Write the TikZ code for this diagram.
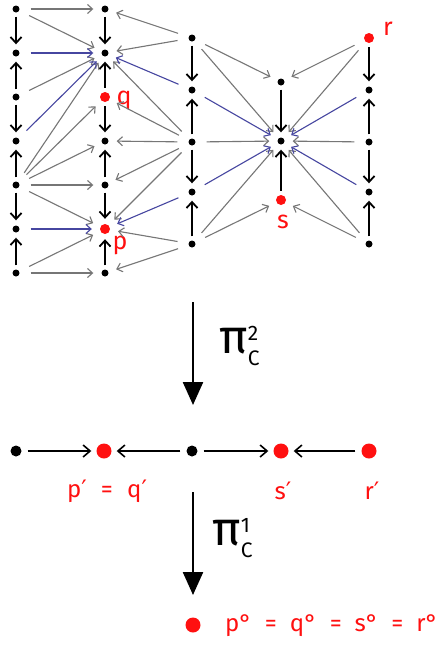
\documentclass[tikz,border=0pt]{standalone}
\usepackage{fontspec}
\setmainfont{Fira Sans}
\newfontfamily\dvs{DejaVu Sans}
\usetikzlibrary{arrows.meta}
\definecolor{ag}{HTML}{767676}
\definecolor{ab}{HTML}{4646A0}
\definecolor{rd}{HTML}{FF1010}
\newcommand{\prm}{{\dvs ′}}
\begin{document}
\begin{tikzpicture}[x=1pt,y=-1pt,
  bd/.style={circle,fill=black,inner sep=0pt,minimum size=7pt},
  rdd/.style={circle,fill=rd,inner sep=0pt,minimum size=10pt},
  mbd/.style={circle,fill=black,inner sep=0pt,minimum size=11pt},
  mrd/.style={circle,fill=rd,inner sep=0pt,minimum size=15pt},
  varr/.style={line width=1.8pt,-{Straight Barb[length=6pt,width=11pt,line width=1.8pt]},shorten <=4pt,shorten >=5pt},
  garr/.style={ag,line width=1.1pt,-{Straight Barb[length=5pt,width=9pt,line width=1.1pt]},shorten <=11pt,shorten >=8pt},
  barr/.style={ab,line width=1.1pt,-{Straight Barb[length=5pt,width=9pt,line width=1.1pt]},shorten <=11pt,shorten >=8pt},
  marr/.style={line width=1.6pt,-{Straight Barb[length=7pt,width=12pt,line width=1.6pt]},shorten <=6pt,shorten >=5pt},
  bigarr/.style={line width=2.4pt,-{Triangle[length=23pt,width=20pt]}},
  lab/.style={rd,font=\fontsize{25}{25}\selectfont,inner sep=0pt},
  mlab/.style={rd,font=\fontsize{24}{24}\selectfont,inner sep=0pt},
  pilab/.style={inner sep=0pt,anchor=base west,font=\fontsize{48}{48}\selectfont}
]
\path[fill=white,use as bounding box] (0,0) rectangle (441,646);
% column 1
\foreach \i/\y in {1/9,2/53,3/97,4/141,5/185,6/229,7/273}{\node[bd] (a\i) at (16,\y) {};}
% column 2
\node[bd] (b1) at (105,9) {};
\node[bd] (b2) at (105,53) {};
\node[rdd] (b3) at (105,97) {};
\node[bd] (b4) at (105,141) {};
\node[bd] (b5) at (105,185) {};
\node[rdd] (b6) at (105,229) {};
\node[bd] (b7) at (105,273) {};
% column 3
\foreach \i/\y in {1/38,2/90,3/142,4/192,5/244}{\node[bd] (c\i) at (192,\y) {};}
% column 4
\node[bd] (d1) at (281,82) {};
\node[bd] (d2) at (281,141) {};
\node[rdd] (d3) at (281,200) {};
% column 5
\node[rdd] (e1) at (369,38) {};
\foreach \i/\y in {2/90,3/142,4/192,5/244}{\node[bd] (e\i) at (369,\y) {};}
% labels
\node[lab] (lq) at (124,100) {q};
\node[lab] (lp) at (120,245) {p};
\node[lab] (lr) at (388,29) {r};
\node[lab] (ls) at (283,222) {s};
% vertical arrows
\foreach \col in {a,b}{
  \draw[varr] (\col1) -- (\col2);
  \draw[varr] (\col3) -- (\col2);
  \draw[varr] (\col3) -- (\col4);
  \draw[varr] (\col5) -- (\col4);
  \draw[varr] (\col5) -- (\col6);
  \draw[varr] (\col7) -- (\col6);
}
\foreach \col in {c,e}{
  \draw[varr] (\col1) -- (\col2);
  \draw[varr] (\col3) -- (\col2);
  \draw[varr] (\col3) -- (\col4);
  \draw[varr] (\col5) -- (\col4);
}
\draw[varr] (d1) -- (d2);
\draw[varr] (d3) -- (d2);
% column 1 -> column 2
\foreach \s/\t in {a1/b1,a1/b2,a3/b2,a5/b2,a5/b3,a5/b4,a5/b5,a5/b6,a7/b6,a7/b7}{\draw[garr] (\s) -- (\t);}
\foreach \s/\t in {a2/b2,a4/b2,a6/b6}{\draw[barr] (\s) -- (\t);}
% column 3 -> column 2
\foreach \s/\t in {c1/b1,c1/b2,c3/b2,c3/b3,c3/b4,c3/b5,c3/b6,c5/b6,c5/b7}{\draw[garr] (\s) -- (\t);}
\foreach \s/\t in {c2/b2,c4/b6}{\draw[barr] (\s) -- (\t);}
% column 3 -> column 4
\foreach \s/\t in {c1/d1,c1/d2,c3/d2,c5/d2,c5/d3}{\draw[garr] (\s) -- (\t);}
\foreach \s/\t in {c2/d2,c4/d2}{\draw[barr] (\s) -- (\t);}
% column 5 -> column 4
\foreach \s/\t in {e1/d1,e1/d2,e3/d2,e5/d2,e5/d3}{\draw[garr] (\s) -- (\t);}
\foreach \s/\t in {e2/d2,e4/d2}{\draw[barr] (\s) -- (\t);}
% first projection
\coordinate (t1) at (193,302);
\coordinate (h1) at (193,405);
\draw[bigarr] (t1) -- (h1);
\node[pilab] (pi2) at (219,353) {π\fontsize{21}{21}\selectfont\rlap{\raisebox{13pt}{2}}\raisebox{-12pt}{C}};
% middle row
\node[mbd] (m1) at (16,451) {};
\node[mrd] (m2) at (104,451) {};
\node[mbd] (m3) at (192,451) {};
\node[mrd] (m4) at (281,451) {};
\node[mrd] (m5) at (369,451) {};
\draw[marr] (m1) -- (m2);
\draw[marr] (m3) -- (m2);
\draw[marr] (m3) -- (m4);
\draw[marr] (m5) -- (m4);
\node[mlab] (lpq) at (107,491) {\makebox[80pt]{p\prm\hfill=\hfill q\prm}};
\node[mlab] (ls1) at (283,491) {s\prm};
\node[mlab] (lr1) at (372,491) {r\prm};
% second projection
\coordinate (t2) at (193,492);
\coordinate (h2) at (193,595);
\draw[bigarr] (t2) -- (h2);
\node[pilab] (pi1) at (212,545) {π\fontsize{21}{21}\selectfont\rlap{\raisebox{13pt}{1}}\raisebox{-12pt}{C}};
% final point
\node[mrd] (f) at (193,625) {};
\node[mlab,anchor=west] (lall) at (225,626) {\makebox[213pt]{p°\hfill=\hfill q°\hfill=\hfill s°\hfill=\hfill r°}};
\end{tikzpicture}
\end{document}
